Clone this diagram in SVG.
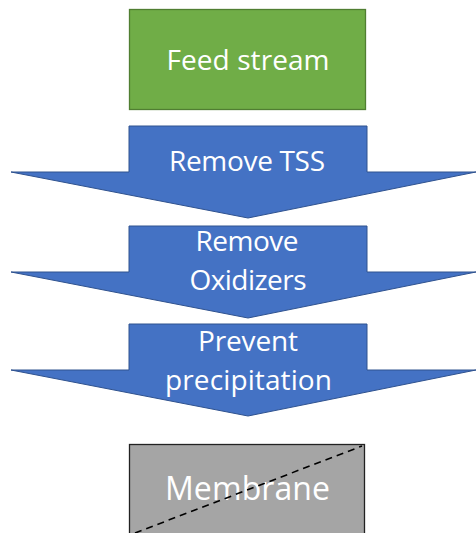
<svg xmlns="http://www.w3.org/2000/svg" width="476" height="533" viewBox="0 0 476 533">
<style>
.arrow{fill:#4472C4;stroke:#2F528F;stroke-width:1}
.t{font-family:"Open Sans","Liberation Sans",sans-serif;fill:#fff;text-anchor:middle;font-size:28px}
</style>
<rect width="476" height="533" fill="#fff"/>
<g id="feed">
<rect x="129.5" y="9.5" width="236" height="100" fill="#70AD47" stroke="#507E32" stroke-width="1.3"/>
<text class="t" x="248" y="70" textLength="163">Feed stream</text>
</g>
<g id="step1">
<path class="arrow" d="M129,126 H367 V172 H476 L248,218 L11,172 H129 Z"/>
<text class="t" x="247" y="171" textLength="156">Remove TSS</text>
</g>
<g id="step2">
<path class="arrow" d="M129,226 H367 V272 H476 L248,318 L11,272 H129 Z"/>
<text class="t" x="247" y="251" textLength="103">Remove</text>
<text class="t" x="248" y="290" textLength="117">Oxidizers</text>
</g>
<g id="step3">
<path class="arrow" d="M129,324 H367 V370 H476 L248,416 L11,370 H129 Z"/>
<text class="t" x="248" y="351" textLength="100">Prevent</text>
<text class="t" x="248.5" y="390" textLength="167">precipitation</text>
</g>
<g id="membrane">
<rect x="129.5" y="444.5" width="235" height="100" fill="#A5A5A5" stroke="#222" stroke-width="1.3"/>
<text class="t" x="247.5" y="500" style="font-size:32px" textLength="165">Membrane</text>
<line x1="135" y1="533" x2="362" y2="446" stroke="#000" stroke-width="1.6" stroke-dasharray="7,5"/>
</g>
<g id="connectors"></g>
</svg>
